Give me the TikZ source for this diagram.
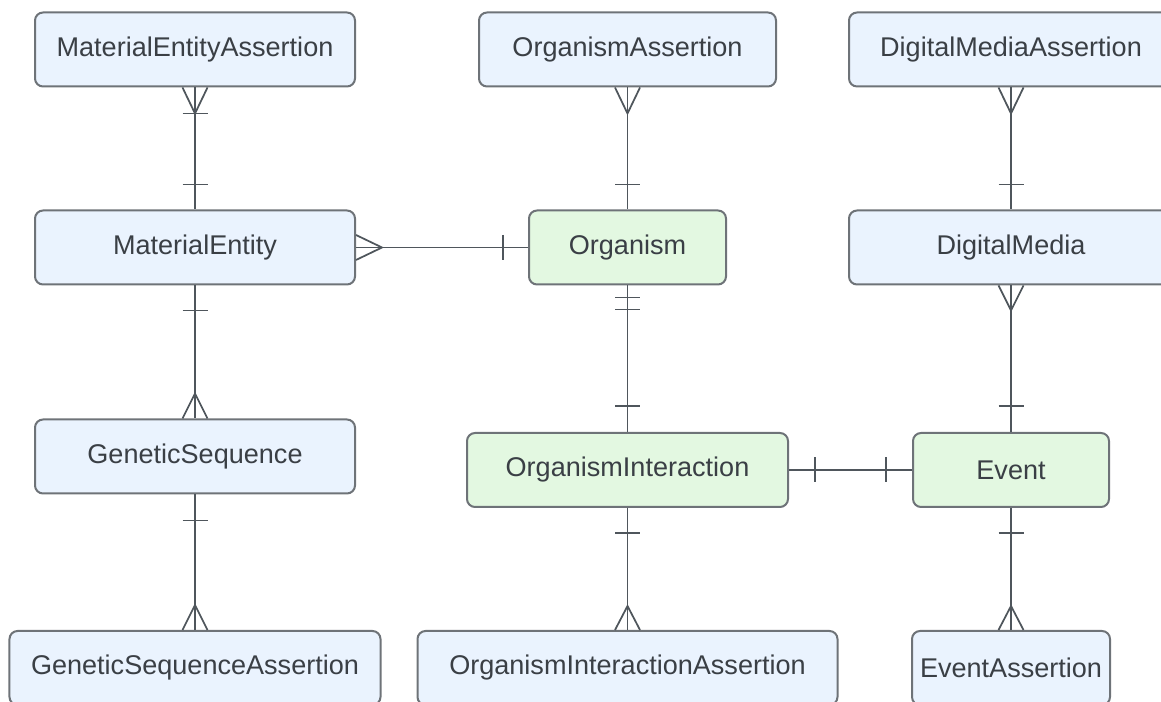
\documentclass[tikz,border=0pt]{standalone}
\usepackage{fontspec}
\setmainfont{Liberation Sans}

\definecolor{entblue}{HTML}{EAF3FE}
\definecolor{entgreen}{HTML}{E3F8E1}
\definecolor{edgegray}{HTML}{6E7378}
\definecolor{linegray}{HTML}{4F565C}
\definecolor{textgray}{HTML}{3A3F45}

\begin{document}
\begin{tikzpicture}[
  entity/.style={draw=edgegray, line width=0.04cm, rounded corners=0.16cm, fill=entblue,
    minimum height=1.48cm, inner sep=0pt, text=textgray, font=\fontsize{15.4}{18}\selectfont},
  core/.style={entity, fill=entgreen},
  rel/.style={draw=linegray, line width=0.035cm}
]
\useasboundingbox (0,0) rectangle (23.22,14.04);
\clip (0,0) rectangle (23.22,14.04);

% entities
\node[entity, minimum width=6.4cm] (mea) at (3.9,13.05) {MaterialEntityAssertion};
\node[entity, minimum width=5.94cm] (oa) at (12.55,13.05) {OrganismAssertion};
\node[entity, minimum width=6.48cm] (dma) at (20.22,13.05) {DigitalMediaAssertion};

\node[entity, minimum width=6.4cm] (me) at (3.9,9.09) {MaterialEntity};
\node[core, minimum width=3.94cm] (org) at (12.55,9.09) {Organism};
\node[entity, minimum width=6.48cm] (dm) at (20.22,9.09) {DigitalMedia};

\node[entity, minimum width=6.4cm] (gs) at (3.9,4.91) {GeneticSequence};
\node[core, minimum width=6.42cm] (oi) at (12.55,4.64) {OrganismInteraction};
\node[core, minimum width=3.92cm] (ev) at (20.22,4.64) {Event};

\node[entity, minimum width=7.42cm] (gsa) at (3.9,0.68) {GeneticSequenceAssertion};
\node[entity, minimum width=8.4cm] (oia) at (12.55,0.68) {OrganismInteractionAssertion};
\node[entity, minimum width=3.96cm] (ea) at (20.22,0.68) {EventAssertion};

% MaterialEntityAssertion -- MaterialEntity
\draw[rel] (mea) -- (me);
\draw[rel] ([xshift=-0.25cm]mea.south) -- ([yshift=-0.52cm]mea.south) -- ([xshift=0.25cm]mea.south);
\draw[rel] ([shift={(-0.25,-0.52)}]mea.south) -- ([shift={(0.25,-0.52)}]mea.south);
\draw[rel] ([shift={(-0.25,0.5)}]me.north) -- ([shift={(0.25,0.5)}]me.north);

% OrganismAssertion -- Organism
\draw[rel] (oa) -- (org);
\draw[rel] ([xshift=-0.25cm]oa.south) -- ([yshift=-0.52cm]oa.south) -- ([xshift=0.25cm]oa.south);
\draw[rel] ([shift={(-0.25,0.5)}]org.north) -- ([shift={(0.25,0.5)}]org.north);

% DigitalMediaAssertion -- DigitalMedia
\draw[rel] (dma) -- (dm);
\draw[rel] ([xshift=-0.25cm]dma.south) -- ([yshift=-0.52cm]dma.south) -- ([xshift=0.25cm]dma.south);
\draw[rel] ([shift={(-0.25,0.5)}]dm.north) -- ([shift={(0.25,0.5)}]dm.north);

% MaterialEntity -- Organism
\draw[rel] (me) -- (org);
\draw[rel] ([yshift=0.25cm]me.east) -- ([xshift=0.52cm]me.east) -- ([yshift=-0.25cm]me.east);
\draw[rel] ([shift={(-0.5,0.25)}]org.west) -- ([shift={(-0.5,-0.25)}]org.west);

% MaterialEntity -- GeneticSequence
\draw[rel] (me) -- (gs);
\draw[rel] ([shift={(-0.25,-0.5)}]me.south) -- ([shift={(0.25,-0.5)}]me.south);
\draw[rel] ([xshift=-0.25cm]gs.north) -- ([yshift=0.5cm]gs.north) -- ([xshift=0.25cm]gs.north);

% GeneticSequence -- GeneticSequenceAssertion
\draw[rel] (gs) -- (gsa);
\draw[rel] ([shift={(-0.25,-0.52)}]gs.south) -- ([shift={(0.25,-0.52)}]gs.south);
\draw[rel] ([xshift=-0.25cm]gsa.north) -- ([yshift=0.5cm]gsa.north) -- ([xshift=0.25cm]gsa.north);

% Organism -- OrganismInteraction
\draw[rel] (org) -- (oi);
\draw[rel] ([shift={(-0.25,-0.24)}]org.south) -- ([shift={(0.25,-0.24)}]org.south);
\draw[rel] ([shift={(-0.25,-0.48)}]org.south) -- ([shift={(0.25,-0.48)}]org.south);
\draw[rel] ([shift={(-0.25,0.52)}]oi.north) -- ([shift={(0.25,0.52)}]oi.north);

% OrganismInteraction -- OrganismInteractionAssertion
\draw[rel] (oi) -- (oia);
\draw[rel] ([shift={(-0.25,-0.5)}]oi.south) -- ([shift={(0.25,-0.5)}]oi.south);
\draw[rel] ([xshift=-0.25cm]oia.north) -- ([yshift=0.48cm]oia.north) -- ([xshift=0.25cm]oia.north);

% OrganismInteraction -- Event
\draw[rel] (oi) -- (ev);
\draw[rel] ([shift={(0.52,0.25)}]oi.east) -- ([shift={(0.52,-0.25)}]oi.east);
\draw[rel] ([shift={(-0.52,0.25)}]ev.west) -- ([shift={(-0.52,-0.25)}]ev.west);

% DigitalMedia -- Event
\draw[rel] (dm) -- (ev);
\draw[rel] ([xshift=-0.25cm]dm.south) -- ([yshift=-0.5cm]dm.south) -- ([xshift=0.25cm]dm.south);
\draw[rel] ([shift={(-0.25,0.52)}]ev.north) -- ([shift={(0.25,0.52)}]ev.north);

% Event -- EventAssertion
\draw[rel] (ev) -- (ea);
\draw[rel] ([shift={(-0.25,-0.5)}]ev.south) -- ([shift={(0.25,-0.5)}]ev.south);
\draw[rel] ([xshift=-0.25cm]ea.north) -- ([yshift=0.48cm]ea.north) -- ([xshift=0.25cm]ea.north);

\end{tikzpicture}
\end{document}
